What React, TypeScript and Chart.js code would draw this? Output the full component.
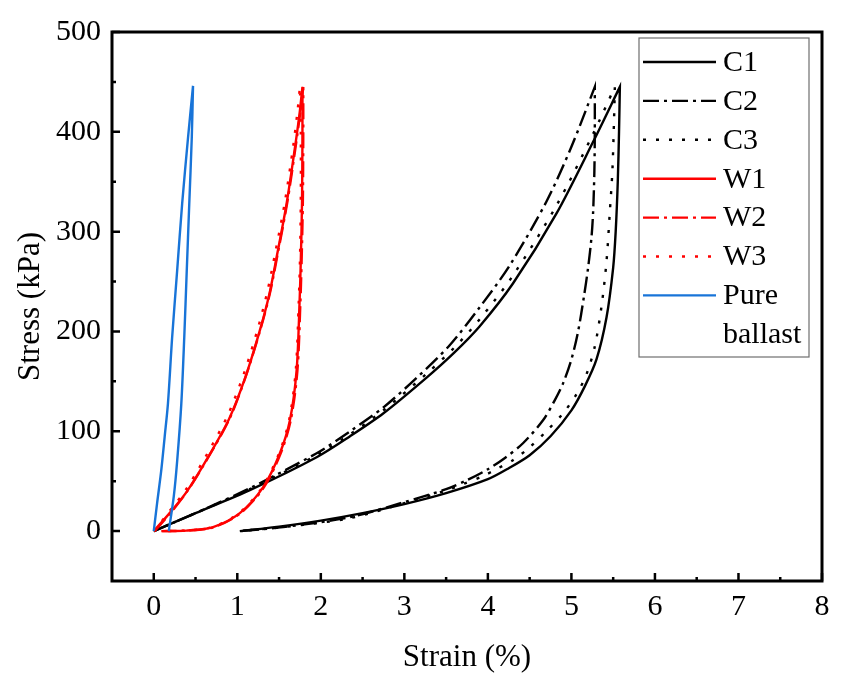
import { useEffect, useRef } from 'react';
import { Chart, registerables } from 'chart.js';

Chart.register(...registerables);

type Pt = [number, number];

const FONT = "'Liberation Serif', 'Times New Roman', serif";

// axis ticks
const X_TICKS = [0, 1, 2, 3, 4, 5, 6, 7, 8];
const X_MINOR = [0.5, 1.5, 2.5, 3.5, 4.5, 5.5, 6.5, 7.5];
const Y_TICKS = [0, 100, 200, 300, 400, 500];
const Y_MINOR = [50, 150, 250, 350, 450];

// [strain %, stress kPa] - loading branch then unloading branch
const C1_LOAD: Pt[] = [[0, 0], [0.5, 18], [1.15, 41], [1.95, 74], [2.35, 95], [2.75, 118], [3.27, 154], [3.6, 179], [3.9, 205], [4.3, 248], [4.82, 318], [5.26, 390], [5.58, 445]];
const C1_UNLOAD: Pt[] = [[5.58, 445], [5.57, 400], [5.555, 350], [5.53, 300], [5.5, 264], [5.42, 214], [5.3, 172], [5.16, 145], [5.0, 121], [4.75, 95], [4.5, 76], [4.25, 63], [4.0, 52], [3.5, 38], [3.0, 27], [2.5, 18], [2.0, 10.5], [1.5, 4.5], [1.03, 0]];

const C2_LOAD: Pt[] = [[0, 0], [0.5, 18], [1.15, 43], [1.95, 78], [2.35, 100], [2.75, 124], [3.14, 153], [3.54, 186], [3.9, 224], [4.26, 266], [4.7, 330], [5.0, 385], [5.28, 445]];
const C2_UNLOAD: Pt[] = [[5.28, 445], [5.28, 400], [5.275, 361], [5.26, 320], [5.24, 294], [5.2, 264], [5.15, 235], [5.08, 200], [5.0, 172], [4.9, 148], [4.8, 131], [4.66, 111], [4.42, 88], [4.2, 73], [4.0, 62], [3.75, 51], [3.5, 42], [3.0, 29], [2.35, 14], [1.55, 4], [1.03, 0]];

const C3_LOAD: Pt[] = [[0, 0], [0.5, 18], [1.15, 42], [1.95, 76], [2.35, 97], [2.75, 121], [3.27, 158], [3.6, 184], [3.9, 212], [4.3, 256], [4.82, 326], [5.26, 398], [5.52, 445]];
const C3_UNLOAD: Pt[] = [[5.52, 445], [5.51, 411], [5.49, 360], [5.46, 320], [5.42, 270], [5.36, 225], [5.28, 185], [5.18, 157], [5.06, 137], [4.9, 118], [4.7, 100], [4.5, 84], [4.3, 71], [4.1, 62], [3.94, 55], [3.7, 47], [3.51, 41], [3.0, 28], [2.35, 13], [1.55, 4], [1.03, 0]];

const W1_LOAD: Pt[] = [[0, 0], [0.2, 19], [0.4, 40], [0.65, 74], [0.9, 112], [1.1, 155], [1.27, 201], [1.38, 236], [1.47, 274], [1.59, 328], [1.69, 384], [1.745, 418], [1.78, 445]];
const W1_UNLOAD: Pt[] = [[1.78, 445], [1.78, 400], [1.775, 330], [1.76, 270], [1.745, 228], [1.71, 161], [1.63, 111], [1.51, 78], [1.31, 44], [1.03, 18], [0.71, 4], [0.39, 0.5], [0.09, 0]];

const W2_LOAD: Pt[] = [[0.01, 0], [0.21, 19], [0.41, 41], [0.66, 75], [0.91, 113], [1.11, 157], [1.28, 203], [1.39, 238], [1.48, 276], [1.6, 330], [1.7, 386], [1.755, 420], [1.79, 445]];
const W2_UNLOAD: Pt[] = [[1.79, 445], [1.79, 400], [1.785, 330], [1.77, 270], [1.755, 228], [1.72, 161], [1.64, 111], [1.52, 78], [1.32, 44], [1.04, 18], [0.72, 4], [0.4, 0.5], [0.1, 0]];

const W3_LOAD: Pt[] = [[0, 0], [0.18, 19], [0.38, 41], [0.63, 76], [0.88, 115], [1.08, 158], [1.25, 204], [1.36, 240], [1.45, 277], [1.57, 330], [1.67, 386], [1.72, 420], [1.75, 445]];
const W3_UNLOAD: Pt[] = [[1.75, 445], [1.76, 400], [1.76, 330], [1.75, 270], [1.735, 228], [1.7, 161], [1.62, 111], [1.5, 78], [1.3, 44], [1.02, 18], [0.7, 4], [0.38, 0.5], [0.09, 0]];

const PB_LOAD: Pt[] = [[0, 0], [0.04, 28], [0.09, 61], [0.13, 94], [0.17, 128], [0.22, 194], [0.28, 261], [0.34, 328], [0.41, 394], [0.47, 446]];
const PB_UNLOAD: Pt[] = [[0.47, 446], [0.455, 394], [0.425, 328], [0.395, 261], [0.365, 194], [0.33, 128], [0.28, 70], [0.24, 35], [0.18, 0]];

const LABELS = ['C1', 'C2', 'C3', 'W1', 'W2', 'W3', 'Pure\nballast'];
const SERIES: Pt[][] = [
    [...C1_LOAD, ...C1_UNLOAD],
    [...C2_LOAD, ...C2_UNLOAD],
    [...C3_LOAD, ...C3_UNLOAD],
    [...W1_LOAD, ...W1_UNLOAD],
    [...W2_LOAD, ...W2_UNLOAD],
    [...W3_LOAD, ...W3_UNLOAD],
    [...PB_LOAD, ...PB_UNLOAD],
];

const BLACK = '#000000';
const RED = '#ff0000';
const BLUE = '#1874d8';
const COLORS = [BLACK, BLACK, BLACK, RED, RED, RED, BLUE];
const SOLID: number[] = [];
const DASH_DOT = [16, 5, 3, 5];
const DOT = [3, 10];
const DASHES = [SOLID, DASH_DOT, DOT, SOLID, DASH_DOT, DOT, SOLID];

// frame, inward ticks and the boxed legend
const decorPlugin = {
    id: 'decor',
    afterDraw(chart: any) {
        const { ctx, chartArea: a, scales } = chart;
        const x = scales.x;
        const y = scales.y;
        ctx.save();
        ctx.strokeStyle = '#000';
        ctx.lineWidth = 2.5;
        ctx.beginPath();
        const tick = (px: number, py: number, dx: number, dy: number) => {
            ctx.moveTo(px, py);
            ctx.lineTo(px + dx, py + dy);
        };
        X_TICKS.forEach((v) => tick(x.getPixelForValue(v), a.bottom, 0, -8));
        X_MINOR.forEach((v) => tick(x.getPixelForValue(v), a.bottom, 0, -4));
        Y_TICKS.forEach((v) => tick(a.left, y.getPixelForValue(v), 8, 0));
        Y_MINOR.forEach((v) => tick(a.left, y.getPixelForValue(v), 4, 0));
        ctx.stroke();
        ctx.lineWidth = 3;
        ctx.strokeRect(a.left, a.top, a.right - a.left, a.bottom - a.top);

        // legend
        const box = { left: a.right - 183, top: a.top + 6, right: a.right - 13, bottom: a.top + 325 };
        ctx.lineWidth = 1.2;
        ctx.strokeStyle = '#6e6e6e';
        ctx.fillStyle = '#fff';
        ctx.fillRect(box.left, box.top, box.right - box.left, box.bottom - box.top);
        ctx.strokeRect(box.left, box.top, box.right - box.left, box.bottom - box.top);
        ctx.font = `30px ${FONT}`;
        ctx.textBaseline = 'middle';
        ctx.textAlign = 'left';
        const rowH = 38.9;
        chart.data.datasets.forEach((ds: any, i: number) => {
            const cy = box.top + 24 + i * rowH;
            ctx.strokeStyle = ds.borderColor;
            ctx.lineWidth = 2.4;
            ctx.setLineDash(ds.borderDash || []);
            ctx.beginPath();
            ctx.moveTo(box.left + 4, cy);
            ctx.lineTo(box.left + 77, cy);
            ctx.stroke();
            ctx.setLineDash([]);
            ctx.fillStyle = '#000';
            String(ds.label)
                .split('\n')
                .forEach((line, j) => ctx.fillText(line, box.left + 84, cy + 1 + j * rowH));
        });
        ctx.restore();
    },
};

export default function App() {
    const chartRef = useRef<HTMLCanvasElement>(null);
    const chartInstance = useRef<Chart | null>(null);

    useEffect(() => {
        if (!chartRef.current) return;
        if (chartInstance.current) chartInstance.current.destroy();
        const ctx = chartRef.current.getContext('2d');
        if (!ctx) return;

        const config: any = {
            type: 'scatter',
            data: {
                datasets: SERIES.map((pts, i) => ({
                    label: LABELS[i],
                    data: pts.map(([sx, sy]) => ({ x: sx, y: sy })),
                    showLine: true,
                    borderColor: COLORS[i],
                    borderWidth: 2.4,
                    borderDash: DASHES[i],
                    pointRadius: 0,
                    tension: 0.3,
                    fill: false,
                    order: 10 - i,
                })),
            },
            options: {
                animation: false,
                responsive: true,
                maintainAspectRatio: false,
                layout: { padding: { left: 0, top: 32, right: 38, bottom: 0 } },
                plugins: {
                    legend: { display: false },
                    tooltip: { enabled: false },
                },
                scales: {
                    x: {
                        type: 'linear',
                        min: -0.5,
                        max: 8,
                        afterBuildTicks: (s: any) => {
                            s.ticks = X_TICKS.map((v) => ({ value: v }));
                        },
                        afterFit: (s: any) => {
                            s.height = 107;
                        },
                        grid: { display: false, drawTicks: false },
                        border: { display: false },
                        ticks: {
                            color: '#000',
                            font: { family: FONT, size: 30 },
                            padding: 8,
                            autoSkip: false,
                            maxRotation: 0,
                        },
                        title: {
                            display: true,
                            text: 'Strain (%)',
                            color: '#000',
                            font: { family: FONT, size: 31 },
                            padding: { top: 0, bottom: 12 },
                        },
                    },
                    y: {
                        type: 'linear',
                        min: -50,
                        max: 500,
                        afterBuildTicks: (s: any) => {
                            s.ticks = Y_TICKS.map((v) => ({ value: v }));
                        },
                        afterFit: (s: any) => {
                            s.width = 112;
                        },
                        grid: { display: false, drawTicks: false },
                        border: { display: false },
                        ticks: {
                            color: '#000',
                            font: { family: FONT, size: 30 },
                            padding: 11,
                        },
                        title: {
                            display: true,
                            text: 'Stress (kPa)',
                            color: '#000',
                            font: { family: FONT, size: 31 },
                            padding: { top: 12, bottom: 0 },
                        },
                    },
                },
            },
            plugins: [decorPlugin],
        };

        chartInstance.current = new Chart(ctx, config);

        return () => {
            if (chartInstance.current) {
                chartInstance.current.destroy();
                chartInstance.current = null;
            }
        };
    }, []);

    return (
        <div style={{ position: 'absolute', left: 0, top: 0, width: 860, height: 688, background: '#fff' }}>
            <canvas ref={chartRef} />
        </div>
    );
}
